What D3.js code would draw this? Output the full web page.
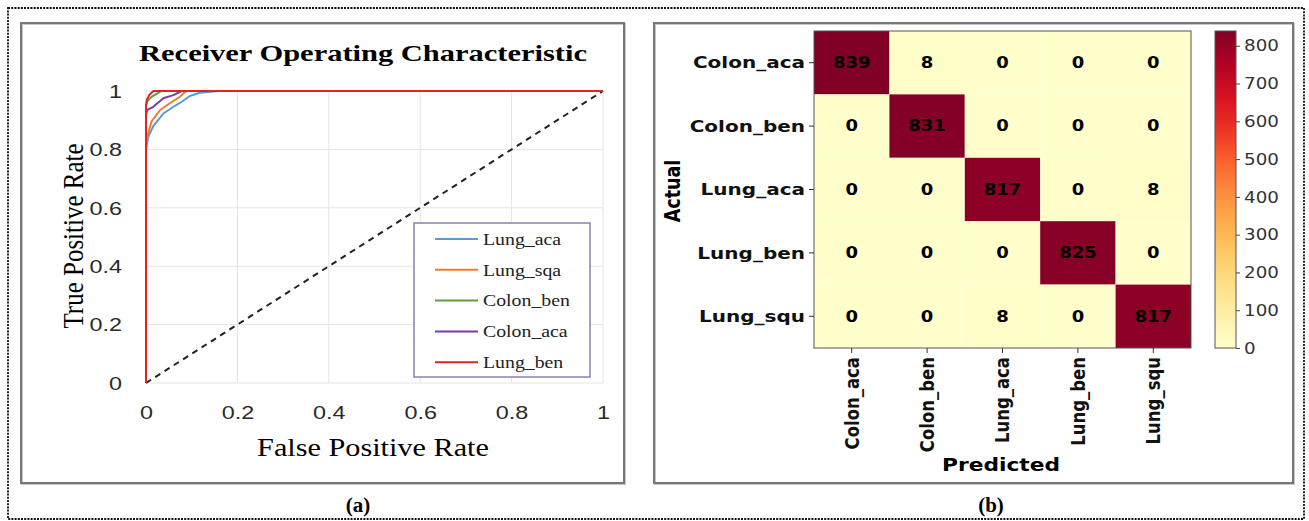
<!DOCTYPE html>
<html>
<head>
<meta charset="utf-8">
<script src="https://cdn.jsdelivr.net/npm/d3@7"></script>
<style>
body{margin:0;background:#fff}
svg{display:block}
</style>
</head>
<body>
<script>

// ROC curves
var rocNames = ["Lung_aca", "Lung_sqa", "Colon_ben", "Colon_aca", "Lung_ben"];
var rocColors = ["#5b9bd5", "#ed7d31", "#5f9c42", "#7a3aa6", "#e2231f"];
var fprLungAca  = [0, 0, 0.005, 0.016, 0.038, 0.06, 0.078, 0.096, 0.118, 0.16, 1];
var tprLungAca  = [0, 0.80, 0.843, 0.88, 0.923, 0.946, 0.963, 0.983, 0.994, 1, 1];
var fprLungSqa  = [0, 0, 0.004, 0.012, 0.031, 0.052, 0.074, 0.088, 1];
var tprLungSqa  = [0, 0.82, 0.85, 0.895, 0.935, 0.958, 0.98, 1, 1];
var fprColonBen = [0, 0, 0.003, 0.012, 0.023, 0.034, 1];
var tprColonBen = [0, 0.95, 0.966, 0.98, 0.99, 1, 1];
var fprColonAca = [0, 0, 0.003, 0.016, 0.038, 0.06, 0.078, 1];
var tprColonAca = [0, 0.92, 0.935, 0.946, 0.975, 0.986, 1, 1];
var fprLungBen  = [0, 0, 0.002, 0.007, 0.016, 1];
var tprLungBen  = [0, 0.95, 0.97, 0.986, 1, 1];
var rocTicks = [0, 0.2, 0.4, 0.6, 0.8, 1];

// confusion matrix
var cmLabels = ["Colon_aca", "Colon_ben", "Lung_aca", "Lung_ben", "Lung_squ"];
var cmValues = [
    [839, 8, 0, 0, 0],
    [0, 831, 0, 0, 0],
    [0, 0, 817, 0, 8],
    [0, 0, 0, 825, 0],
    [0, 0, 8, 0, 817]
];
var cbarTicks = [0, 100, 200, 300, 400, 500, 600, 700, 800];


var W = 1309, H = 521;
var serif = "'Liberation Serif','Times New Roman',serif",
    sans = "'Liberation Sans',Arial,sans-serif",
    dejavu = "'DejaVu Sans',sans-serif";

var svg = d3.select("body").append("svg").attr("width", W).attr("height", H);

// text helper: the picture is stretched sideways, so glyphs get scaled in x
function label(g, x, y, str, o) {
    return g.append("text")
        .attr("transform", "translate(" + x + "," + y + ") scale(" + (o.sx || 1) + ",1)" + (o.rot ? " rotate(" + o.rot + ")" : ""))
        .attr("text-anchor", o.anchor || "middle")
        .attr("dy", "0.35em")
        .style("font-family", o.font)
        .style("font-size", o.size + "px")
        .style("font-weight", o.weight || "normal")
        .attr("fill", o.fill || "#000")
        .text(str);
}

// outer dotted frame + panel frames
svg.append("rect").attr("x", 8).attr("y", 8).attr("width", 1296).attr("height", 511)
    .attr("fill", "none").attr("stroke", "#111").attr("stroke-width", 1.8).attr("stroke-dasharray", "2,1.2");
[[21, 23, 603, 460], [654, 23, 639, 460]].forEach(function (r) {
    svg.append("rect").attr("x", r[0] + 1).attr("y", r[1] + 1).attr("width", r[2]).attr("height", r[3])
        .attr("fill", "none").attr("stroke", "#c8c8c8").attr("stroke-width", 2);
    svg.append("rect").attr("x", r[0]).attr("y", r[1]).attr("width", r[2]).attr("height", r[3])
        .attr("fill", "none").attr("stroke", "#777").attr("stroke-width", 2);
});
label(svg, 358, 505, "(a)", {font: serif, size: 20, weight: "bold", sx: 1.05});
label(svg, 991, 505, "(b)", {font: serif, size: 20, weight: "bold", sx: 1.05});


// ---------- panel (a): ROC ----------
var a = svg.append("g");
var x = d3.scaleLinear().domain([0, 1]).range([146, 603]);
var y = d3.scaleLinear().domain([0, 1]).range([383, 91]);

a.selectAll(".vg").data(rocTicks).enter().append("line")
    .attr("x1", x).attr("x2", x).attr("y1", y(0)).attr("y2", y(1))
    .attr("stroke", "#e4e4e4").attr("stroke-width", 1);
a.selectAll(".hg").data(rocTicks).enter().append("line")
    .attr("x1", x(0)).attr("x2", x(1)).attr("y1", y).attr("y2", y)
    .attr("stroke", "#e4e4e4").attr("stroke-width", 1);

var fmt = d3.format("~g");
var gx = a.append("g").attr("transform", "translate(0," + y(0) + ")")
    .call(d3.axisBottom(x).tickValues(rocTicks).tickSize(0).tickFormat(fmt));
gx.select(".domain").remove();
gx.selectAll("text").attr("y", 0).attr("dy", "0.35em")
    .attr("transform", "translate(0,30) scale(1.3,1)")
    .style("font-family", sans).style("font-size", "18px").attr("fill", "#2a2a2a");

var gy = a.append("g").attr("transform", "translate(" + x(0) + ",0)")
    .call(d3.axisLeft(y).tickValues(rocTicks).tickSize(0).tickFormat(fmt));
gy.select(".domain").remove();
gy.selectAll("text").attr("x", 0).attr("dy", "0.35em")
    .attr("transform", "translate(-24,0) scale(1.3,1)")
    .style("font-family", sans).style("font-size", "18px").attr("fill", "#2a2a2a");

// chance line
a.append("line").attr("x1", x(0)).attr("y1", y(0)).attr("x2", x(1)).attr("y2", y(1))
    .attr("stroke", "#222").attr("stroke-width", 2).attr("stroke-dasharray", "6,5");

var rocFpr = [fprLungAca, fprLungSqa, fprColonBen, fprColonAca, fprLungBen];
var rocTpr = [tprLungAca, tprLungSqa, tprColonBen, tprColonAca, tprLungBen];
var line = d3.line().x(function (d) { return x(d[0]); }).y(function (d) { return y(d[1]); });
rocNames.forEach(function (n, i) {
    a.append("path").datum(d3.zip(rocFpr[i], rocTpr[i]))
        .attr("d", line).attr("fill", "none")
        .attr("stroke", rocColors[i]).attr("stroke-width", 2).attr("stroke-linejoin", "round");
});

label(a, 363, 53, "Receiver Operating Characteristic", {font: serif, size: 24, weight: "bold", sx: 1.27});
label(a, 373, 447, "False Positive Rate", {font: serif, size: 25, sx: 1.21});
label(a, 72, 236, "True Positive Rate", {font: serif, size: 25, sx: 1.21, rot: -90});

// legend
var lg = a.append("g");
lg.append("rect").attr("x", 414).attr("y", 223).attr("width", 176).attr("height", 154)
    .attr("fill", "#fff").attr("stroke", "#8f7fb5").attr("stroke-width", 1.5);
rocNames.forEach(function (n, i) {
    var ly = 239 + i * 30.8;
    lg.append("line").attr("x1", 435).attr("x2", 478).attr("y1", ly).attr("y2", ly)
        .attr("stroke", rocColors[i]).attr("stroke-width", 2);
    label(lg, 483, ly, n, {font: serif, size: 16.5, sx: 1.2, anchor: "start", fill: "#222"});
});


// ---------- panel (b): confusion matrix ----------
var b = svg.append("g");
var xb = d3.scaleBand().domain(cmLabels).range([814, 1191]);
var yb = d3.scaleBand().domain(cmLabels).range([31, 348]);
var color = d3.scaleSequential(d3.interpolateYlOrRd).domain([0, 839]);

var cells = [];
cmValues.forEach(function (row, i) {
    row.forEach(function (v, j) { cells.push({r: cmLabels[i], c: cmLabels[j], v: v}); });
});
b.selectAll(".cell").data(cells).enter().append("rect")
    .attr("x", function (d) { return xb(d.c); })
    .attr("y", function (d) { return yb(d.r); })
    .attr("width", xb.bandwidth()).attr("height", yb.bandwidth())
    .attr("fill", function (d) { return color(d.v); });
cells.forEach(function (d) {
    label(b, xb(d.c) + xb.bandwidth() / 2, yb(d.r) + yb.bandwidth() / 2, d.v,
        {font: dejavu, size: 15, weight: "bold", sx: 1.2});
});
b.append("rect").attr("x", 814).attr("y", 31).attr("width", 377).attr("height", 317)
    .attr("fill", "none").attr("stroke", "#555").attr("stroke-width", 1);

var ay = b.append("g").attr("transform", "translate(814,0)")
    .call(d3.axisLeft(yb).tickSize(5));
ay.select(".domain").remove();
ay.selectAll("line").attr("stroke", "#333");
ay.selectAll("text").attr("x", 0).attr("dy", "0.35em")
    .attr("transform", "translate(-9,0) scale(1.25,1)")
    .style("font-family", dejavu).style("font-size", "16px").style("font-weight", "bold").attr("fill", "#111");

var ax = b.append("g").attr("transform", "translate(0,348)")
    .call(d3.axisBottom(xb).tickSize(5));
ax.select(".domain").remove();
ax.selectAll("line").attr("stroke", "#333");
ax.selectAll("text").attr("x", 0).attr("y", 0).attr("dy", "0.35em")
    .attr("text-anchor", "end")
    .attr("transform", "translate(0,9) scale(1.2,1) rotate(-90)")
    .style("font-family", dejavu).style("font-size", "16.5px").style("font-weight", "bold").attr("fill", "#111");

label(b, 1001, 465, "Predicted", {font: dejavu, size: 17, weight: "bold", sx: 1.28});
label(b, 672, 191, "Actual", {font: dejavu, size: 17.5, weight: "bold", sx: 1.25, rot: -90});

// colorbar
var cb = d3.scaleLinear().domain([0, 839]).range([348, 31]);
var grad = svg.append("defs").append("linearGradient").attr("id", "cbar")
    .attr("x1", 0).attr("y1", 1).attr("x2", 0).attr("y2", 0);
d3.range(0, 1.0001, 0.1).forEach(function (t) {
    grad.append("stop").attr("offset", t).attr("stop-color", d3.interpolateYlOrRd(t));
});
b.append("rect").attr("x", 1215).attr("y", cb(839)).attr("width", 21).attr("height", cb(0) - cb(839))
    .attr("fill", "url(#cbar)").attr("stroke", "#555").attr("stroke-width", 1);
var ac = b.append("g").attr("transform", "translate(1236,0)")
    .call(d3.axisRight(cb).tickValues(cbarTicks).tickSize(4).tickPadding(4));
ac.select(".domain").remove();
ac.selectAll("line").attr("stroke", "#444");
ac.selectAll("text").attr("x", 0).attr("dy", "0.35em")
    .attr("transform", "translate(8,0) scale(1.22,1)")
    .style("font-family", dejavu).style("font-size", "15px").attr("fill", "#333");

</script>
</body>
</html>
